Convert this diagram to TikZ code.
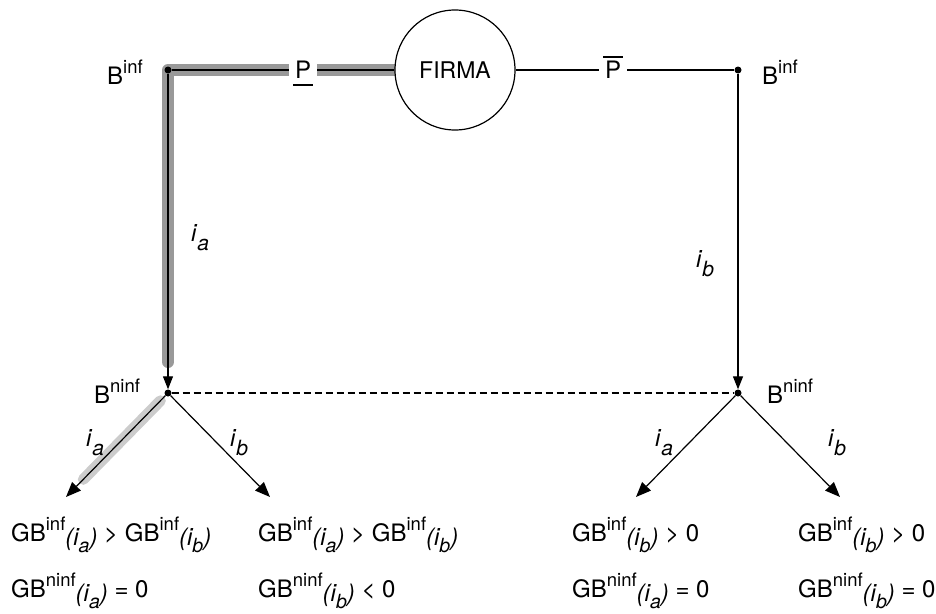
\documentclass[tikz,border=0pt]{standalone}
\usepackage{fontspec}
\setmainfont{TeX Gyre Heros}
\usetikzlibrary{arrows.meta,calc}
\definecolor{hldark}{HTML}{999999}
\definecolor{hllight}{HTML}{CCCCCC}
\newcommand\upx[1]{\raisebox{0.42em}{\fontsize{18.5}{18.5}\selectfont #1}}
\newcommand\dnx[1]{\raisebox{-0.28em}{\fontsize{19.5}{19.5}\selectfont\itshape #1}}
\newcommand\ii[1]{\raisebox{-0.18em}{\itshape (i\dnx{#1})}}
\newcommand\lbi[1]{\textit{i}\raisebox{-0.38em}{\fontsize{21}{21}\selectfont\itshape #1}}
\tikzset{
  ln/.style={line width=1.2pt},
  arr/.style={line width=1.2pt,-{Triangle[length=13pt,width=10pt]}},
  darr/.style={line width=1.2pt,-{Triangle[length=15pt,width=12pt]}},
  dotnode/.style={circle,fill=black,inner sep=0pt,minimum size=7pt},
  lbl/.style={inner sep=0pt,font=\fontsize{24}{28}\selectfont},
  plbl/.style={inner sep=0pt,inner xsep=6pt,fill=white,font=\fontsize{24}{28}\selectfont},
  hlband/.style={line width=12pt,color=hldark,line cap=round,line join=round},
  hlband2/.style={line width=11pt,color=hllight,line cap=round},
}
\begin{document}
\begin{tikzpicture}[x=1pt,y=-1pt]
\useasboundingbox (0,0) rectangle (936,613);
% coordinates
\coordinate (cfirma) at (455,70);
\coordinate (ctl) at (168,70);
\coordinate (cbl) at (168,393);
\coordinate (hlend) at (168,362);
\coordinate (t1) at (66,497);
\coordinate (t2) at (270,497);
\coordinate (t3) at (636,497);
\coordinate (t4) at (840,497);
% highlight bands
\draw[hlband] (cfirma) -- (ctl) -- (hlend);
\draw[hlband2] ($(cbl)!0.075!(t1)$) -- ($(cbl)!0.83!(t1)$);
% nodes
\node[draw,circle,minimum size=120pt,fill=white,line width=1.2pt,inner sep=0pt,font=\fontsize{23}{26}\selectfont] (firma) at (cfirma) {FIRMA};
\node[dotnode] (tl) at (ctl) {};
\node[dotnode] (tr) at (738,70) {};
\node[dotnode] (bl) at (cbl) {};
\node[dotnode] (br) at (738,393) {};
\node[plbl] (p) at (303,70) {P};
\node[plbl] (pb) at (613,70) {P};
\draw[ln] ($(p.center)+(-10,15)$) -- ($(p.center)+(10,15)$);
\draw[ln] ($(pb.center)+(-10,-13)$) -- ($(pb.center)+(10,-13)$);
% connectors
\draw[ln] (tl) -- (p);
\draw[ln] (p) -- (firma);
\draw[ln] (firma) -- (pb);
\draw[ln] (pb) -- (tr);
\draw[arr] (tl) -- (bl);
\draw[arr] (tr) -- (br);
\draw[ln,dash pattern=on 7pt off 4pt] (bl) -- (br);
\draw[darr] (bl) -- (t1);
\draw[darr] (bl) -- (t2);
\draw[darr] (br) -- (t3);
\draw[darr] (br) -- (t4);
% labels
\node[lbl,anchor=base west] (ltl) at (107,84) {B\upx{inf}};
\node[lbl,anchor=base west] (ltr) at (762,84) {B\upx{inf}};
\node[lbl,anchor=base west] (lbl) at (94,403) {B\upx{ninf}};
\node[lbl,anchor=base west] (lbr) at (767,403) {B\upx{ninf}};
\node[lbl] (ia1) at (200,238) {\lbi{a}};
\node[lbl] (ib1) at (705,264) {\lbi{b}};
\node[lbl] (ia2) at (95,443) {\lbi{a}};
\node[lbl] (ib2) at (239,443) {\lbi{b}};
\node[lbl] (ia3) at (664,443) {\lbi{a}};
\node[lbl] (ib3) at (837,443) {\lbi{b}};
% results
\node[lbl,anchor=base west] (r1c1) at (11,541) {GB\upx{inf}\ii{a} > GB\upx{inf}\ii{b}};
\node[lbl,anchor=base west] (r1c2) at (258,541) {GB\upx{inf}\ii{a} > GB\upx{inf}\ii{b}};
\node[lbl,anchor=base west] (r1c3) at (572,541) {GB\upx{inf}\ii{b} > 0};
\node[lbl,anchor=base west] (r1c4) at (798,541) {GB\upx{inf}\ii{b} > 0};
\node[lbl,anchor=base west] (r2c1) at (11,597) {GB\upx{ninf}\ii{a} = 0};
\node[lbl,anchor=base west] (r2c2) at (258,597) {GB\upx{ninf}\ii{b} < 0};
\node[lbl,anchor=base west] (r2c3) at (572,597) {GB\upx{ninf}\ii{a} = 0};
\node[lbl,anchor=base west] (r2c4) at (798,597) {GB\upx{ninf}\ii{b} = 0};
\end{tikzpicture}
\end{document}
